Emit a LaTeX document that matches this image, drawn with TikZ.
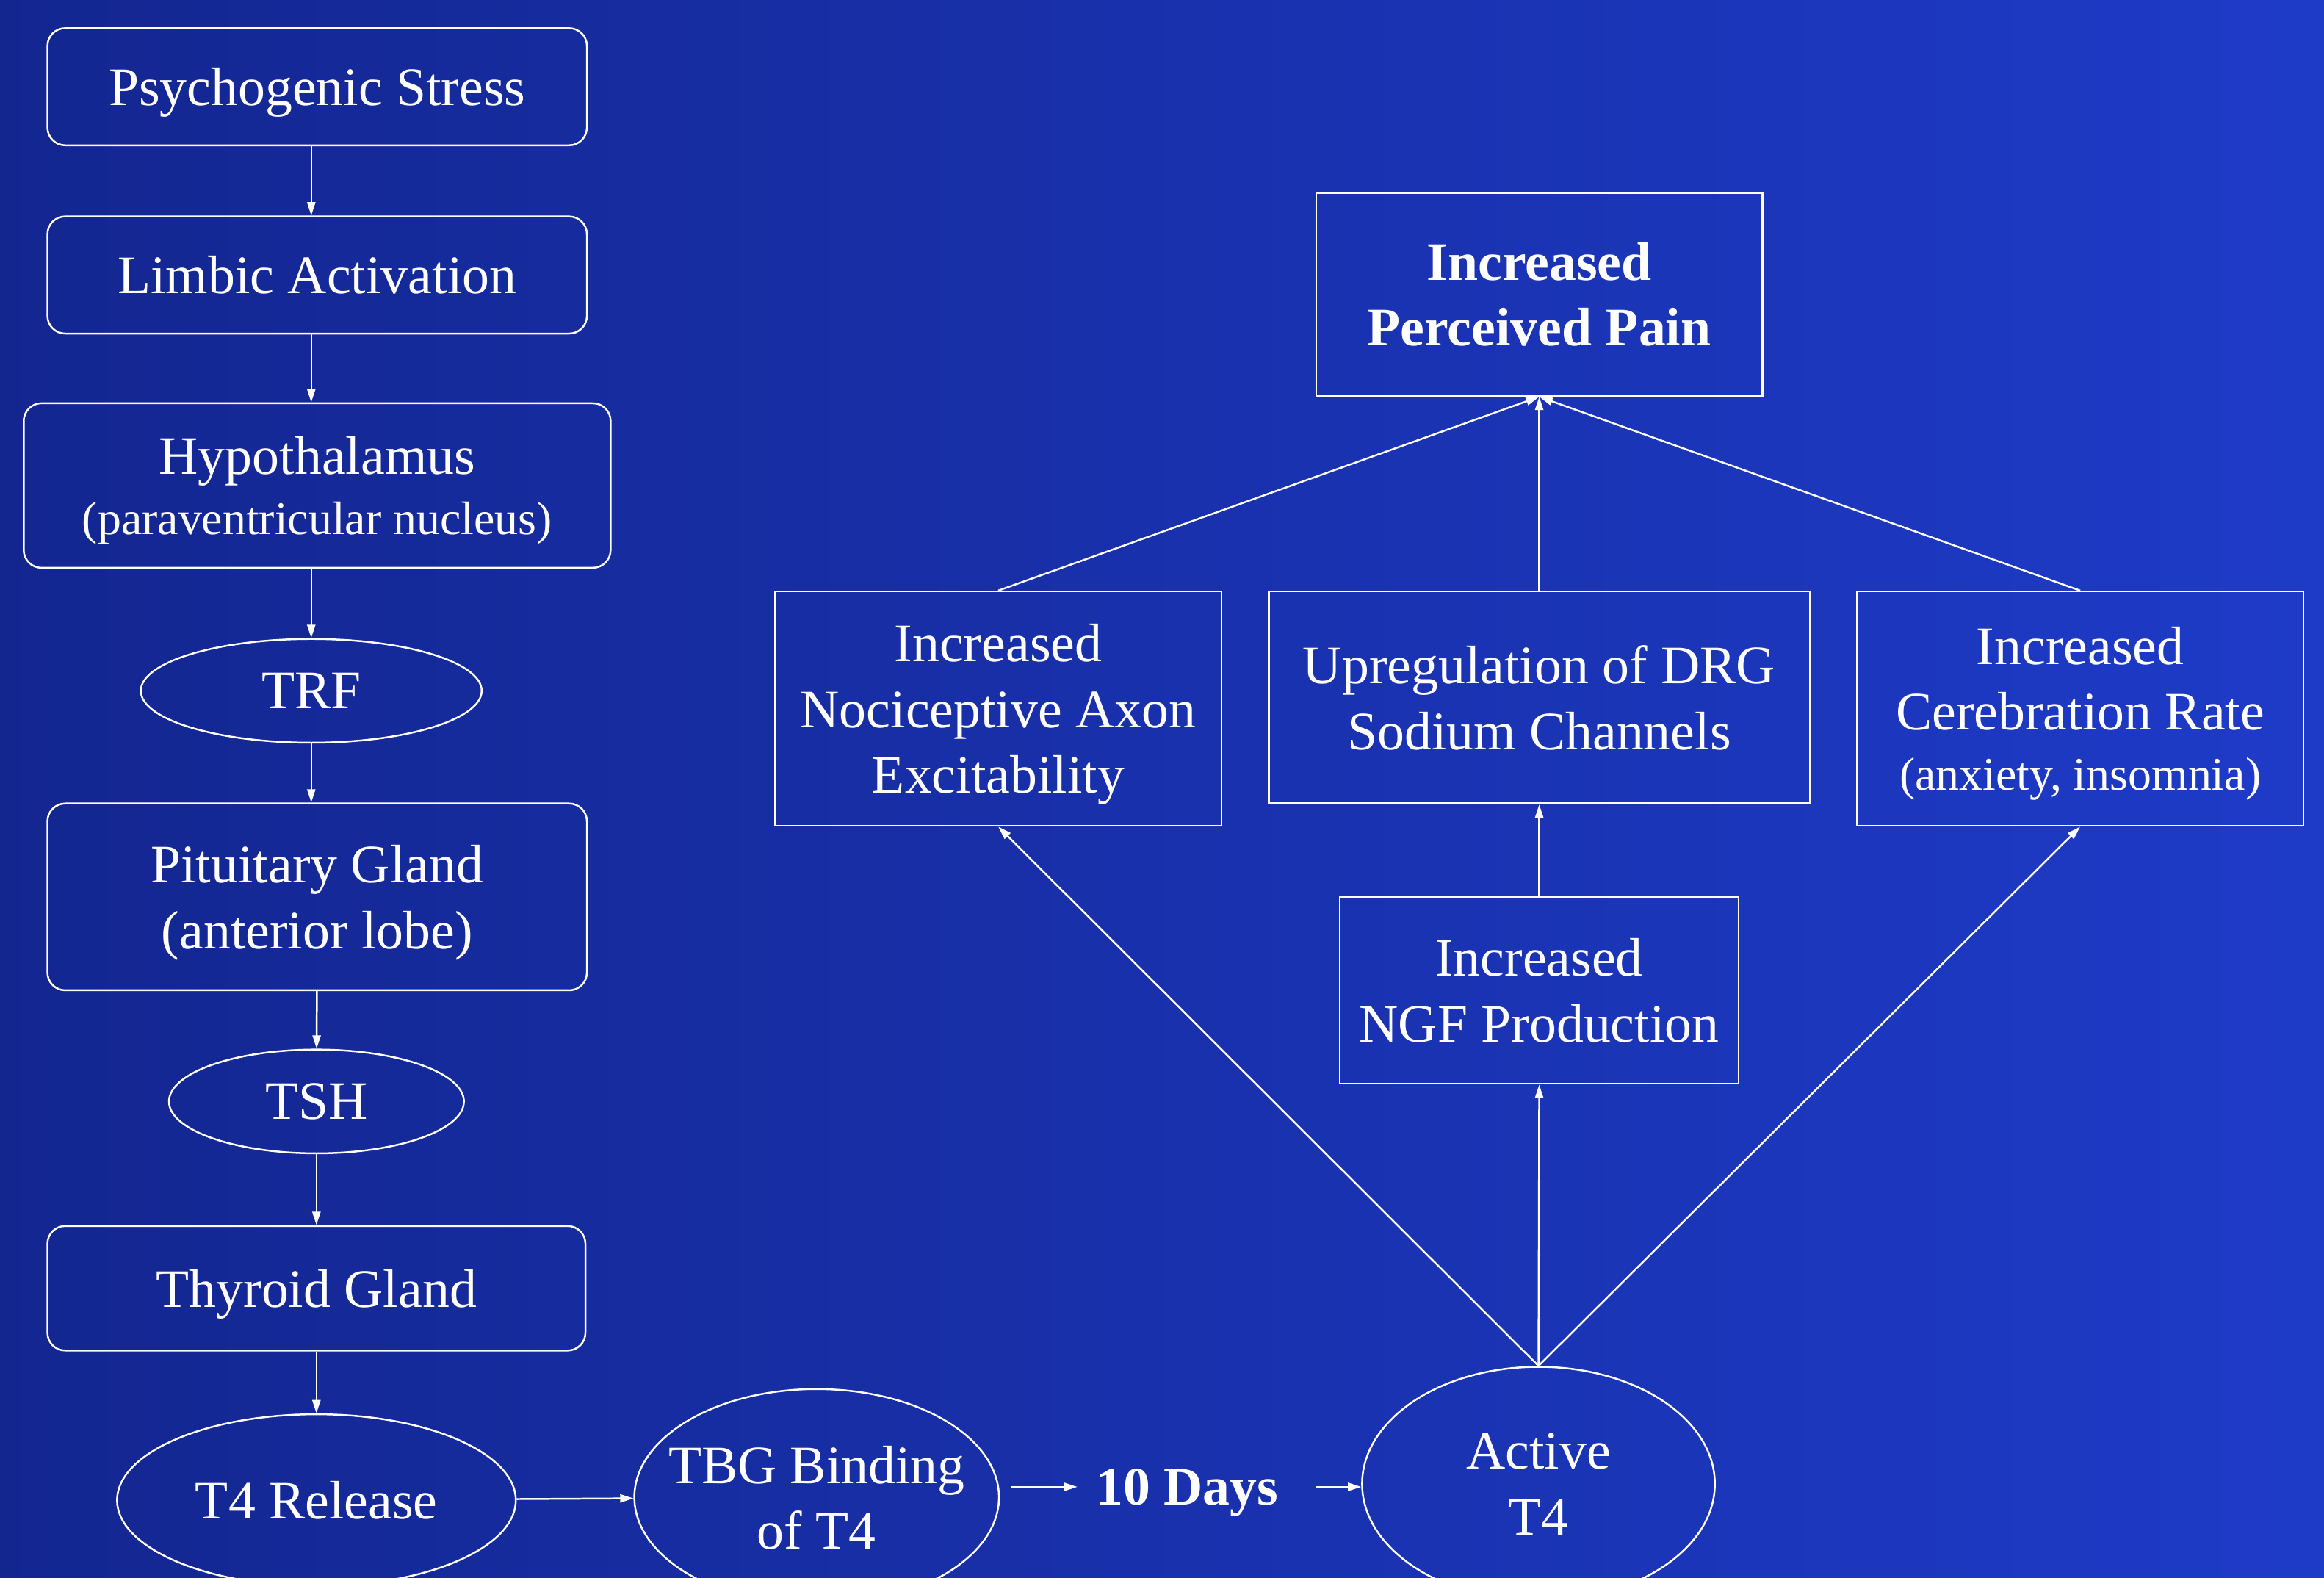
\documentclass[tikz,border=0pt]{standalone}
\usepackage{fontspec}
\setmainfont{Liberation Serif}
\usepackage{xcolor}
\usetikzlibrary{positioning}
\usetikzlibrary{shapes.geometric}
\usetikzlibrary{arrows.meta}

\definecolor{bgleft}{RGB}{19,38,144}
\definecolor{bgright}{RGB}{30,59,200}

\tikzset{
    base/.style={draw=white, line width=0.35pt, text=white, align=center, inner sep=0pt,
        text depth=0pt, font=\fontsize{10.4}{12.6}\selectfont},
    roundbox/.style={base, rectangle, rounded corners=0.12cm},
    sharpbox/.style={base, rectangle},
    oval/.style={base, ellipse},
    link/.style={draw=white, line width=0.35pt, -{Triangle[length=0.9mm,width=0.55mm]}}
}

\begin{document}
\begin{tikzpicture}
    % Background
    \clip (0,0) rectangle (15.68,-10.64);
    \shade[left color=bgleft, right color=bgright] (0,0) rectangle (15.68,-10.64);

    % Left column
    \node[roundbox, minimum width=3.64cm, minimum height=0.79cm] (stress) at (2.14,-0.585) {Psychogenic Stress};
    \node[roundbox, minimum width=3.64cm, minimum height=0.79cm] (limbic) at (2.14,-1.855) {Limbic Activation};
    \node[roundbox, minimum width=3.96cm, minimum height=1.11cm] (hypo) at (2.14,-3.275)
        {Hypothalamus\\[-1pt]{\fontsize{9}{10.8}\selectfont (paraventricular nucleus)}};
    \node[oval, minimum width=2.30cm, minimum height=0.70cm] (trf) at (2.10,-4.66) {TRF};
    \node[roundbox, minimum width=3.64cm, minimum height=1.26cm] (pit) at (2.14,-6.05) {Pituitary Gland\\(anterior lobe)};
    \node[oval, minimum width=1.99cm, minimum height=0.70cm] (tsh) at (2.135,-7.43) {TSH};
    \node[roundbox, minimum width=3.63cm, minimum height=0.84cm] (thy) at (2.135,-8.69) {Thyroid Gland};
    \node[oval, minimum width=2.69cm, minimum height=1.16cm] (t4rel) at (2.135,-10.12) {T4 Release};

    % Bottom row
    \node[oval, minimum width=2.46cm, minimum height=1.46cm, inner xsep=-0.16cm] (tbg) at (5.51,-10.10) {TBG Binding\\of T4};
    \node[text=white, inner xsep=0.12cm, text depth=0pt, font=\fontsize{10.4}{12.6}\selectfont\bfseries] (days) at (8.01,-10.03) {10 Days};
    \node[oval, minimum width=2.38cm, minimum height=1.58cm] (active) at (10.38,-10.01) {Active\\T4};

    % Right side
    \node[sharpbox, minimum width=3.01cm, minimum height=1.37cm, font=\fontsize{10.4}{12.6}\selectfont\bfseries] (pain) at (10.385,-1.985) {Increased\\Perceived Pain};
    \node[sharpbox, minimum width=3.01cm, minimum height=1.58cm] (noci) at (6.735,-4.78) {Increased\\Nociceptive Axon\\Excitability};
    \node[sharpbox, minimum width=3.65cm, minimum height=1.43cm] (drg) at (10.385,-4.705) {Upregulation of DRG\\Sodium Channels};
    \node[sharpbox, minimum width=3.01cm, minimum height=1.58cm] (cereb) at (14.035,-4.78)
        {Increased\\Cerebration Rate\\[-1pt]{\fontsize{9}{10.8}\selectfont (anxiety, insomnia)}};
    \node[sharpbox, minimum width=2.69cm, minimum height=1.26cm] (ngf) at (10.385,-6.68) {Increased\\NGF Production};

    % Chain down the left
    \foreach \a/\b in {stress/limbic, limbic/hypo, hypo/trf, trf/pit} {
        \draw[link] (\a.south -| trf) -- (\b.north -| trf);
    }
    \foreach \a/\b in {pit/tsh, tsh/thy, thy/t4rel} {
        \draw[link] (\a) -- (\b);
    }

    % Along the bottom
    \draw[link] (t4rel) -- (tbg);
    \draw[link] ([xshift=0.08cm]tbg.east |- days.west) -- (days.west);
    \draw[link] ([xshift=0.13cm]days.east) -- (days.east -| active.west);

    % Up from active T4
    \foreach \t in {noci, ngf, cereb} {
        \draw[link] (active.north) -- (\t.south);
    }
    \draw[link] (ngf) -- (drg);

    % Into perceived pain
    \foreach \s in {noci, drg, cereb} {
        \draw[link] (\s.north) -- (pain.south);
    }
\end{tikzpicture}
\end{document}
